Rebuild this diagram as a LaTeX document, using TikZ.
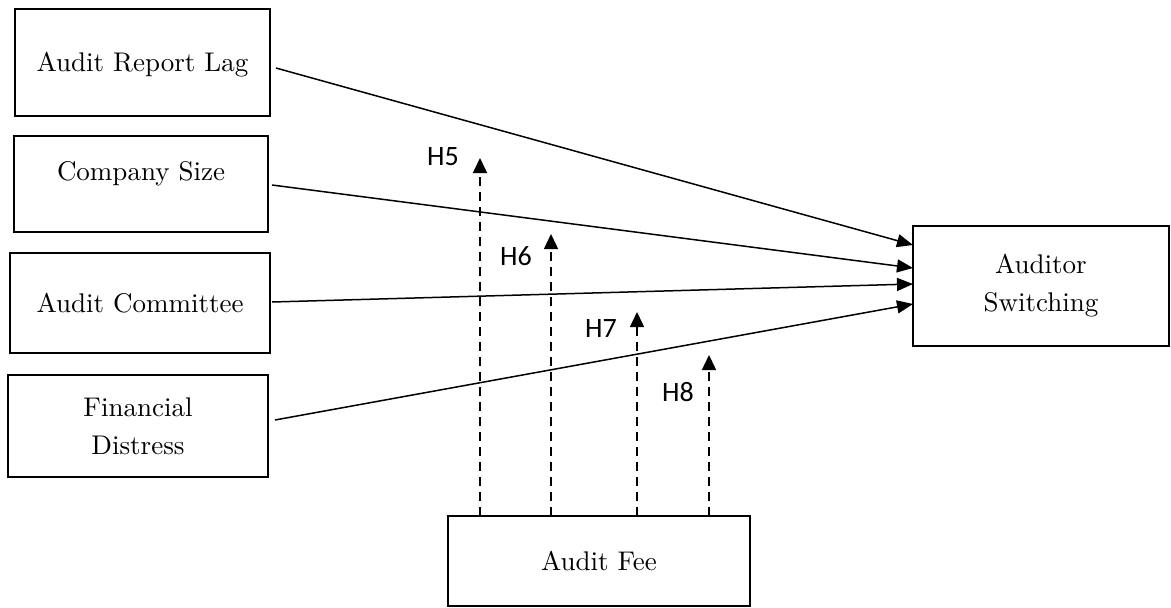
\documentclass[tikz,border=0pt]{standalone}
\usepackage{fontspec}
\newfontfamily\hfont{Carlito}
\newfontfamily\boxfont{lmroman10-regular.otf}
\usetikzlibrary{arrows.meta}

\begin{document}
\begin{tikzpicture}[x=1pt,y=-1pt,
  box/.style={draw,line width=1.6pt,inner sep=0pt,outer sep=0pt,align=center,font=\boxfont\fontsize{27}{38}\selectfont},
  oneline/.style={text height=18pt,text depth=0pt},
  link/.style={line width=1.5pt,-{Triangle[length=16pt,width=13pt]}},
  hyp/.style={line width=1.5pt,dash pattern=on 9pt off 6pt,-{Triangle[length=15pt,width=14pt]}},
  hlab/.style={font=\hfont\fontsize{28}{30}\selectfont,inner sep=0pt}]
\useasboundingbox (0,0) rectangle (1171,608);
\node[box,oneline,minimum width=255pt,minimum height=107pt] (arl) at (142.5,62.5) {Audit Report Lag};
\node[box,oneline,minimum width=254pt,minimum height=96pt,text depth=26pt] (cs) at (141,184) {Company Size};
\node[box,oneline,minimum width=260pt,minimum height=100pt] (ac) at (140,303) {Audit Committee};
\node[box,minimum width=260pt,minimum height=102pt] (fd) at (138,426) {Financial\\Distress};
\node[box,minimum width=256pt,minimum height=120pt] (sw) at (1041,286) {Auditor\\Switching};
\node[box,oneline,minimum width=302pt,minimum height=90pt] (fee) at (599,561) {Audit Fee};
% independent variables
\draw[link] ([shift={(6,5.5)}]arl.east) -- ([yshift=41pt]sw.west);
\draw[link] ([shift={(4,1)}]cs.east) -- ([yshift=18pt]sw.west);
\draw[link] ([shift={(2,-1)}]ac.east) -- ([yshift=2pt]sw.west);
\draw[link] ([shift={(7,-6)}]fd.east) -- ([yshift=-18pt]sw.west);
% moderating effect
\coordinate (h5tip) at (480,158); \coordinate (h6tip) at (551,234);
\coordinate (h7tip) at (637,312); \coordinate (h8tip) at (709,355);
\draw[hyp] (h5tip |- fee.north) -- (h5tip);
\draw[hyp] (h6tip |- fee.north) -- (h6tip);
\draw[hyp] (h7tip |- fee.north) -- (h7tip);
\draw[hyp] (h8tip |- fee.north) -- (h8tip);
\node[hlab] (h5) at (443,157) {H5}; \node[hlab] (h6) at (516,256) {H6};
\node[hlab] (h7) at (601,329) {H7}; \node[hlab] (h8) at (678,392) {H8};
\end{tikzpicture}
\end{document}
